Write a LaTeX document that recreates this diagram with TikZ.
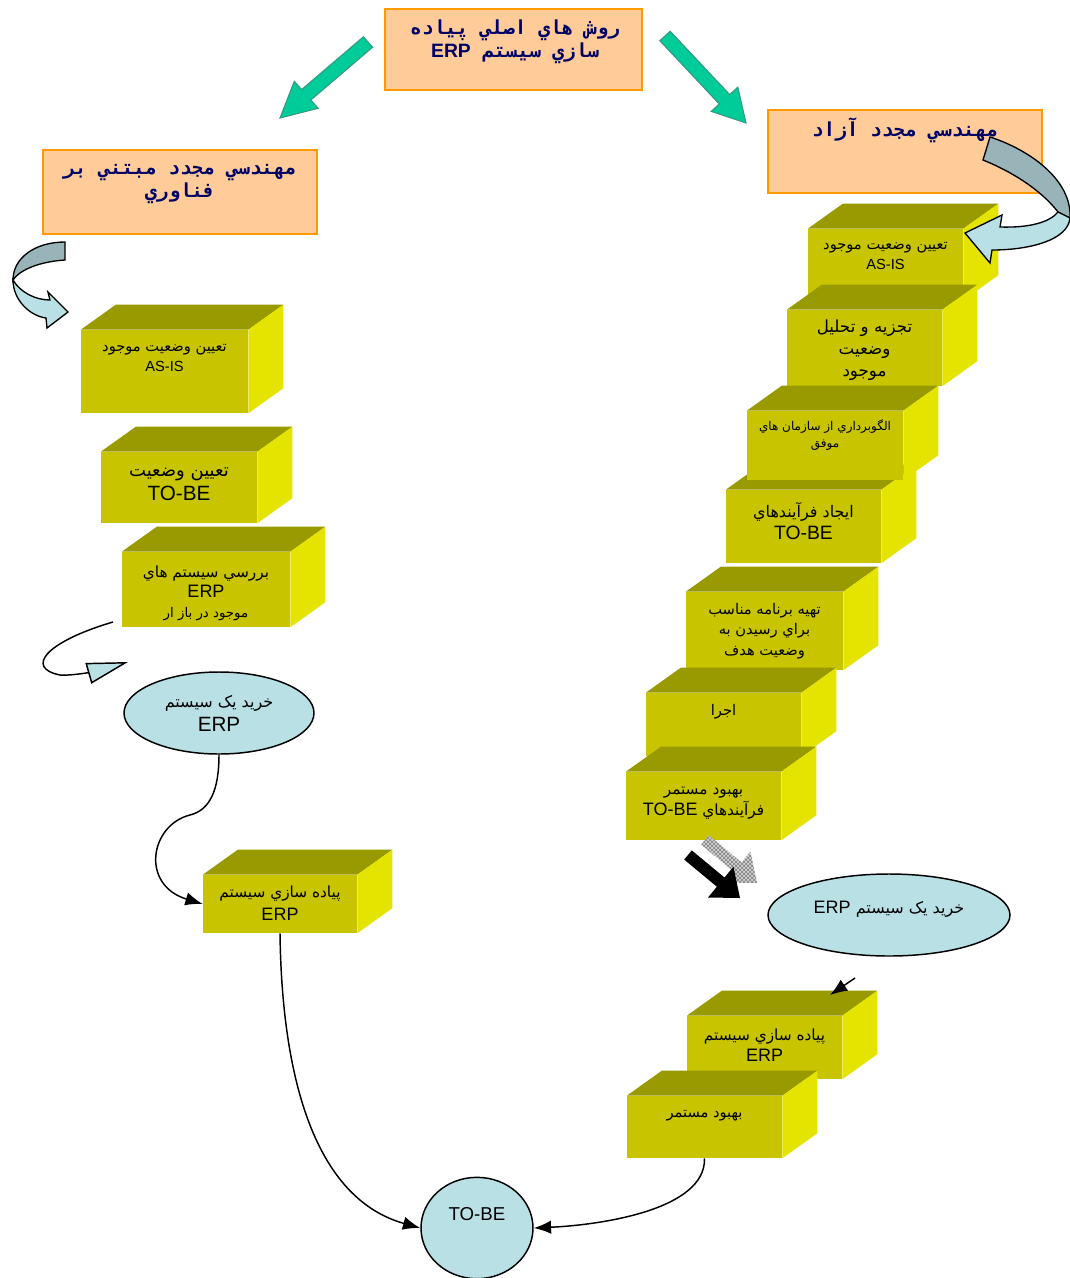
\documentclass[tikz,border=0pt]{standalone}
\usepackage{fontspec}
\setmainfont{Liberation Sans}
\newfontfamily\arabicfont[Script=Arabic]{DejaVu Sans}
\newfontfamily\headfont[Script=Arabic]{DejaVu Sans Mono}
\TeXXeTstate=1
\usetikzlibrary{arrows.meta,patterns,shapes.geometric}

\definecolor{frontyellow}{RGB}{200,196,0}
\definecolor{topolive}{RGB}{153,153,0}
\definecolor{sideyellow}{RGB}{228,228,0}
\definecolor{peach}{RGB}{255,204,153}
\definecolor{peachline}{RGB}{255,153,0}
\definecolor{navy}{RGB}{0,0,102}
\definecolor{paleblue}{RGB}{185,224,228}
\definecolor{greyblue}{RGB}{153,180,185}
\definecolor{seagreen}{RGB}{0,204,153}
\definecolor{seagreenline}{RGB}{51,153,128}

% right-to-left text
\newcommand{\rl}[1]{{\arabicfont\beginR #1\endR}}
% a yellow step: [text opts]{name}{x1}{y1}{x2}{y2}{text y}{text}
\newcommand{\stepblock}[8][]{%
  \node[front, minimum width={(#5-#3)*0.75pt}, minimum height={(#6-#4)*0.75pt}] (#2) at ({(#3+#5)/2},{(#4+#6)/2}) {};
  \fill[topolive] (#2.north west) -- ++(35,-25) -- ([shift={(35,-25)}]#2.north east) -- (#2.north east) -- cycle;
  \fill[sideyellow] (#2.north east) -- ++(35,-25) -- ([shift={(35,-25)}]#2.south east) -- (#2.south east) -- cycle;
  \node[boxtext,#1] (#2-text) at ({(#3+#5)/2},#7) {#8};
}

\begin{document}
\begin{tikzpicture}[x=0.75pt, y=-0.75pt,
    front/.style={rectangle, fill=frontyellow, inner sep=0pt},
    boxtext/.style={align=center, inner sep=0pt, font=\fontsize{11}{15.5}\selectfont},
    headbox/.style={rectangle, fill=peach, draw=peachline, line width=1.2pt, inner sep=0pt},
    headtext/.style={align=center, inner sep=0pt, text=navy, font=\headfont\bfseries\fontsize{14.5}{17.5}\selectfont},
    bubble/.style={ellipse, fill=paleblue, draw=black, line width=1.1pt, inner sep=0pt, align=center, font=\fontsize{12}{18}\selectfont},
    link/.style={-{Latex[length=13pt,width=10pt]}, line width=1.1pt},
    greenarrow/.style={fill=seagreen, draw=seagreenline, line width=0.8pt},
    bent/.style={draw=black, line width=1pt}]
  \useasboundingbox (0,0) rectangle (1070,1278);
  \fill[white] (0,0) rectangle (1070,1278);

  % headings
  \node[headbox, minimum width=192.75pt, minimum height=60.75pt] (title) at (513.5,49.5) {};
  \node[headtext] (title-text) at (515,42) {\beginR روش هاي اصلي پياده\endR\\
    \beginR سازي سيستم \beginL{\normalfont\bfseries ERP}\endL\endR};
  \node[headbox, minimum width=205.5pt, minimum height=62.25pt] (free) at (905,151.5) {};
  \node[headtext] (free-text) at (905,130) {\beginR مهندسي مجدد آزاد\endR};
  \node[headbox, minimum width=205.5pt, minimum height=63pt] (tech) at (180,192) {};
  \node[headtext] (tech-text) at (180,184) {\beginR مهندسي مجدد مبتني بر\endR\\ \beginR فناوري\endR};

  % green arrows
  \filldraw[greenarrow] (372.6,47.2) -- (363.4,36.8) -- (301.6,89.6) -- (294.3,81.3) -- (280,118)
    -- (318.1,108.3) -- (310.8,100) -- cycle;
  \filldraw[greenarrow] (670.2,31.3) -- (659.8,40.7) -- (719.3,104) -- (711.2,111.4) -- (746,123)
    -- (737.8,87.2) -- (729.7,94.6) -- cycle;

  % left column
  \stepblock{asis}{81}{330}{248}{413}{358}{\rl{تعيين وضعيت موجود}\\ AS-IS}
  \stepblock[font=\fontsize{13.5}{18}\selectfont]{tobe}{101}{452}{257}{523}{484}{\rl{تعيين وضعيت}\\ {\fontsize{15.5}{18}\selectfont TO-BE}}
  \stepblock[font=\fontsize{11.5}{15}\selectfont]{market}{122}{552}{290}{627}{593}{\rl{بررسي سيستم هاي}\\ {\fontsize{13.5}{15}\selectfont ERP}\\ \rl{\fontsize{10}{15}\selectfont موجود در  باز ار}}
  \stepblock[font=\fontsize{11.5}{17}\selectfont]{impl}{203}{875}{357}{933}{903}{\rl{پياده سازي سيستم}\\ {\fontsize{13.5}{17}\selectfont ERP}}

  % right column
  \stepblock{r1}{808}{229}{963}{300}{256}{\rl{تعيين وضعيت موجود}\\ AS-IS}
  \stepblock[font=\fontsize{12.5}{16.5}\selectfont]{r2}{787}{310}{942}{386}{350}{\rl{تجزيه و تحليل}\\ \rl{وضعيت}\\ \rl{موجود}}
  \stepblock[font=\fontsize{12}{16.5}\selectfont]{r4}{726}{490}{881}{563}{521}{\rl{ايجاد فرآيندهاي}\\ {\fontsize{14.5}{16.5}\selectfont TO-BE}}
  \stepblock[font=\fontsize{9}{12.75}\selectfont]{r3}{747}{411}{903}{480}{435}{\rl{الگوبرداري از سازمان هاي}\\ \rl{موفق}}
  \stepblock[font=\fontsize{11}{15.5}\selectfont]{r5}{686}{592}{843}{670}{631}{\rl{تهيه برنامه مناسب}\\ \rl{براي رسيدن به}\\ \rl{وضعيت هدف}}
  \stepblock{r6}{646}{693}{801}{756}{712}{\rl{اجرا}}
  \stepblock[font=\fontsize{11.5}{16}\selectfont]{r7}{626}{772}{781}{840}{803}{\rl{بهبود مستمر}\\
    \rl{فرآيندهاي \beginL{\normalfont\fontsize{13.5}{16}\selectfont TO-BE}\endL}}
  \stepblock[font=\fontsize{11.5}{16}\selectfont]{r8}{687}{1016}{842}{1079}{1045}{\rl{پياده سازي سيستم}\\ {\fontsize{13.5}{16}\selectfont ERP}}
  \stepblock{r9}{627}{1096}{782}{1158}{1116}{\rl{بهبود مستمر}}

  % bubbles
  \node[bubble, minimum width=142.5pt, minimum height=61.5pt] (buyL) at (219,713)
    {\rl{خريد يک سيستم}\\ {\fontsize{15.5}{18}\selectfont ERP}};
  \node[bubble, minimum width=181.5pt, minimum height=61.5pt] (buyR) at (889,915)
    {\raisebox{11pt}{\rl{خريد يک سيستم \beginL{\normalfont\fontsize{13.5}{16}\selectfont ERP}\endL}}};
  \node[bubble, minimum width=84pt, minimum height=76pt] (goal) at (477,1228)
    {\raisebox{21pt}{\fontsize{14}{16}\selectfont TO-BE}};

  % connectors
  \draw[link] (buyL.south) .. controls (219,790) and (210,810) .. (190,815)
    .. controls (150,825) and (140,885) .. (impl.west);
  \draw[link] (impl.south) .. controls (282,1090) and (320,1200) .. (goal.west);
  \draw[link] (r9.south) .. controls (706,1210) and (600,1225) .. (goal.east);
  \coordinate (kink) at (855,978);
  \coordinate (r8top) at (830,995);
  \draw[link] (kink) -- (r8top);

  % loop out of the market step
  \coordinate (loopstart) at (113,622);
  \coordinate (loopend) at (128,662);
  \draw[line width=1.1pt, -{Triangle[length=31pt,width=16pt,fill=paleblue]}] (loopstart)
    .. controls (45,642) and (25,668) .. (60,675) .. controls (75,676) and (100,670) .. (loopend);

  % curved arrows
  \filldraw[bent, fill=greyblue] (65,242) .. controls (35,242) and (13,258) .. (13,280)
    .. controls (18,272) and (35,262) .. (65,260) -- cycle;
  \filldraw[bent, fill=paleblue] (13,280) .. controls (13,300) and (30,316) .. (46,318) -- (47,328)
    -- (68,312) -- (48,292) -- (50,300) .. controls (35,300) and (20,292) .. (13,280) -- cycle;
  \filldraw[bent, fill=greyblue] (990,137) .. controls (1030,150) and (1072,180) .. (1070,218)
    -- (1058,212) .. controls (1045,195) and (1020,175) .. (983,160) -- cycle;
  \filldraw[bent, fill=paleblue] (1070,218) .. controls (1068,240) and (1030,250) .. (992,250)
    -- (990,263) -- (965,233) -- (1002,215) -- (1000,227) .. controls (1030,228) and (1050,222) .. (1058,212) -- cycle;

  % thick arrows under the last step
  \begin{scope}[shift={(17,-15)}]
    \fill[gray!35] (684.2,859.6) -- (691.8,850.4) -- (724.5,877.5) -- (733.4,866.7) -- (740,898)
      -- (708,897.5) -- (716.9,886.7) -- cycle;
    \fill[pattern=crosshatch, pattern color=gray] (684.2,859.6) -- (691.8,850.4) -- (724.5,877.5)
      -- (733.4,866.7) -- (740,898) -- (708,897.5) -- (716.9,886.7) -- cycle;
  \end{scope}
  \fill[black] (684.2,859.6) -- (691.8,850.4) -- (724.5,877.5) -- (733.4,866.7) -- (740,898)
    -- (708,897.5) -- (716.9,886.7) -- cycle;
\end{tikzpicture}
\end{document}
